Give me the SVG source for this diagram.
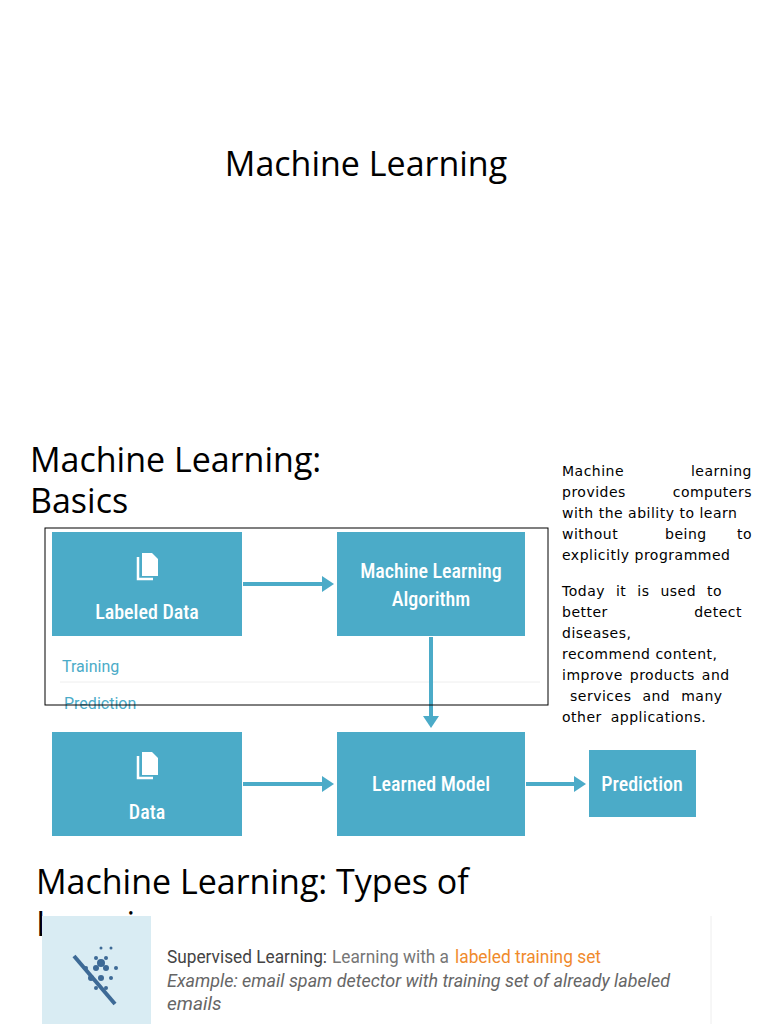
<svg xmlns="http://www.w3.org/2000/svg" width="768" height="1024" viewBox="0 0 768 1024">
<defs>
<style>
.box{fill:#4babc8}
.bt{fill:#fff;font-family:Roboto,"Liberation Sans",sans-serif;font-size:20px;font-weight:500;text-anchor:middle;font-stretch:condensed}
.conn{stroke:#4babc8;stroke-width:4;fill:none}
.h{font-family:"Open Sans","DejaVu Sans",sans-serif;fill:#000}
.p{font-family:"DejaVu Sans",sans-serif;font-size:14px;fill:#000;letter-spacing:0.5px}
.lab{font-family:Roboto,"Liberation Sans",sans-serif;font-size:16px;fill:#4babc8}
.s{font-family:Roboto,"Liberation Sans",sans-serif;font-size:19px}
</style>
<marker id="ah" markerWidth="4" markerHeight="4" refX="2" refY="2" orient="auto" markerUnits="strokeWidth"><path d="M0,0L3,2L0,4z" fill="#4babc8"/></marker>
<g id="doc"><path d="M-5,-14h10l6,6v17h-16z" fill="#fff"/><path d="M-9,-10v22h15" stroke="#fff" stroke-width="2.5" fill="none"/></g>
</defs>
<rect width="768" height="1024" fill="#fff"/>
<text class="h" x="366" y="176" font-size="34" text-anchor="middle">Machine Learning</text>
<text class="h" x="30" y="472" font-size="34">Machine Learning:</text>
<text class="h" x="30" y="513" font-size="34">Basics</text>
<g class="p">
<text x="562" y="476">Machine</text><text x="752" y="476" text-anchor="end">learning</text>
<text x="562" y="497">provides</text><text x="752" y="497" text-anchor="end">computers</text>
<text x="562" y="518">with the ability  to learn</text>
<text x="562" y="539">without</text><text x="665" y="539">being</text><text x="752" y="539" text-anchor="end">to</text>
<text x="562" y="560">explicitly programmed</text>
<text x="562" y="596" word-spacing="6">Today it is used to</text>
<text x="562" y="617">better</text><text x="742" y="617" text-anchor="end">detect</text>
<text x="562" y="638">diseases,</text>
<text x="562" y="659">recommend content,</text>
<text x="562" y="680" word-spacing="2">improve products and</text>
<text x="570" y="701" word-spacing="6">services and many</text>
<text x="562" y="722" word-spacing="4">other applications.</text>
</g>
<line x1="60" y1="682" x2="540" y2="682" stroke="#eee"/>
<text class="lab" x="62" y="672">Training</text>
<text class="lab" x="64" y="709">Prediction</text>
<g id="connectors">
<line class="conn" x1="243" y1="584" x2="330" y2="584" marker-end="url(#ah)"/>
<line class="conn" x1="431" y1="637" x2="431" y2="724" marker-end="url(#ah)"/>
<line class="conn" x1="243" y1="784" x2="330" y2="784" marker-end="url(#ah)"/>
<line class="conn" x1="526" y1="784" x2="582" y2="784" marker-end="url(#ah)"/>
</g>
<g id="labeled"><rect class="box" x="52" y="532" width="190" height="104"/><use href="#doc" x="147" y="567"/><text class="bt" x="147" y="619">Labeled Data</text></g>
<g id="algo"><rect class="box" x="337" y="532" width="188" height="104"/><text class="bt" x="431" y="578">Machine Learning</text><text class="bt" x="431" y="606">Algorithm</text></g>
<g id="data"><rect class="box" x="52" y="732" width="190" height="104"/><use href="#doc" x="147" y="766"/><text class="bt" x="147" y="819">Data</text></g>
<g id="model"><rect class="box" x="337" y="732" width="188" height="104"/><text class="bt" x="431" y="791">Learned Model</text></g>
<g id="pred"><rect class="box" x="589" y="750" width="107" height="67"/><text class="bt" x="642" y="791">Prediction</text></g>
<rect x="45" y="528" width="503" height="177" fill="none" stroke="#000" stroke-width="1"/>
<text class="h" x="36" y="894" font-size="34">Machine Learning: Types of</text>
<text class="h" x="36" y="936" font-size="34">Learning</text>
<rect x="42" y="916" width="670" height="108" fill="#fff"/>
<line x1="711" y1="916" x2="711" y2="1024" stroke="#eee"/>
<rect x="42" y="916" width="109" height="108" fill="#d9ecf3"/>
<g fill="#3d6a96">
<circle cx="96" cy="968" r="3"/><circle cx="106" cy="968" r="3"/><circle cx="96" cy="958" r="2"/><circle cx="106" cy="958" r="2"/><circle cx="86" cy="968" r="2"/><circle cx="116" cy="968" r="2"/>
<circle cx="101" cy="963" r="4"/><circle cx="91" cy="978" r="3"/><circle cx="101" cy="978" r="3"/><circle cx="111" cy="978" r="2"/><circle cx="96" cy="988" r="2"/><circle cx="106" cy="988" r="2"/><circle cx="101" cy="948" r="1.5"/><circle cx="111" cy="948" r="1.5"/>
<line x1="74" y1="956" x2="115" y2="1004" stroke="#3d6a96" stroke-width="4"/>
</g>
<text class="s" x="167" y="963" fill="#444" textLength="160" lengthAdjust="spacingAndGlyphs">Supervised Learning:</text>
<text class="s" x="332" y="963" fill="#777" textLength="117" lengthAdjust="spacingAndGlyphs">Learning with a</text>
<text class="s" x="455" y="963" fill="#f08a2c" textLength="146" lengthAdjust="spacingAndGlyphs">labeled training set</text>
<text class="s" font-style="italic" fill="#666" x="167" y="987" textLength="503" lengthAdjust="spacingAndGlyphs">Example: email spam detector with training set of already labeled</text>
<text class="s" font-style="italic" fill="#666" x="167" y="1010">emails</text>
</svg>
